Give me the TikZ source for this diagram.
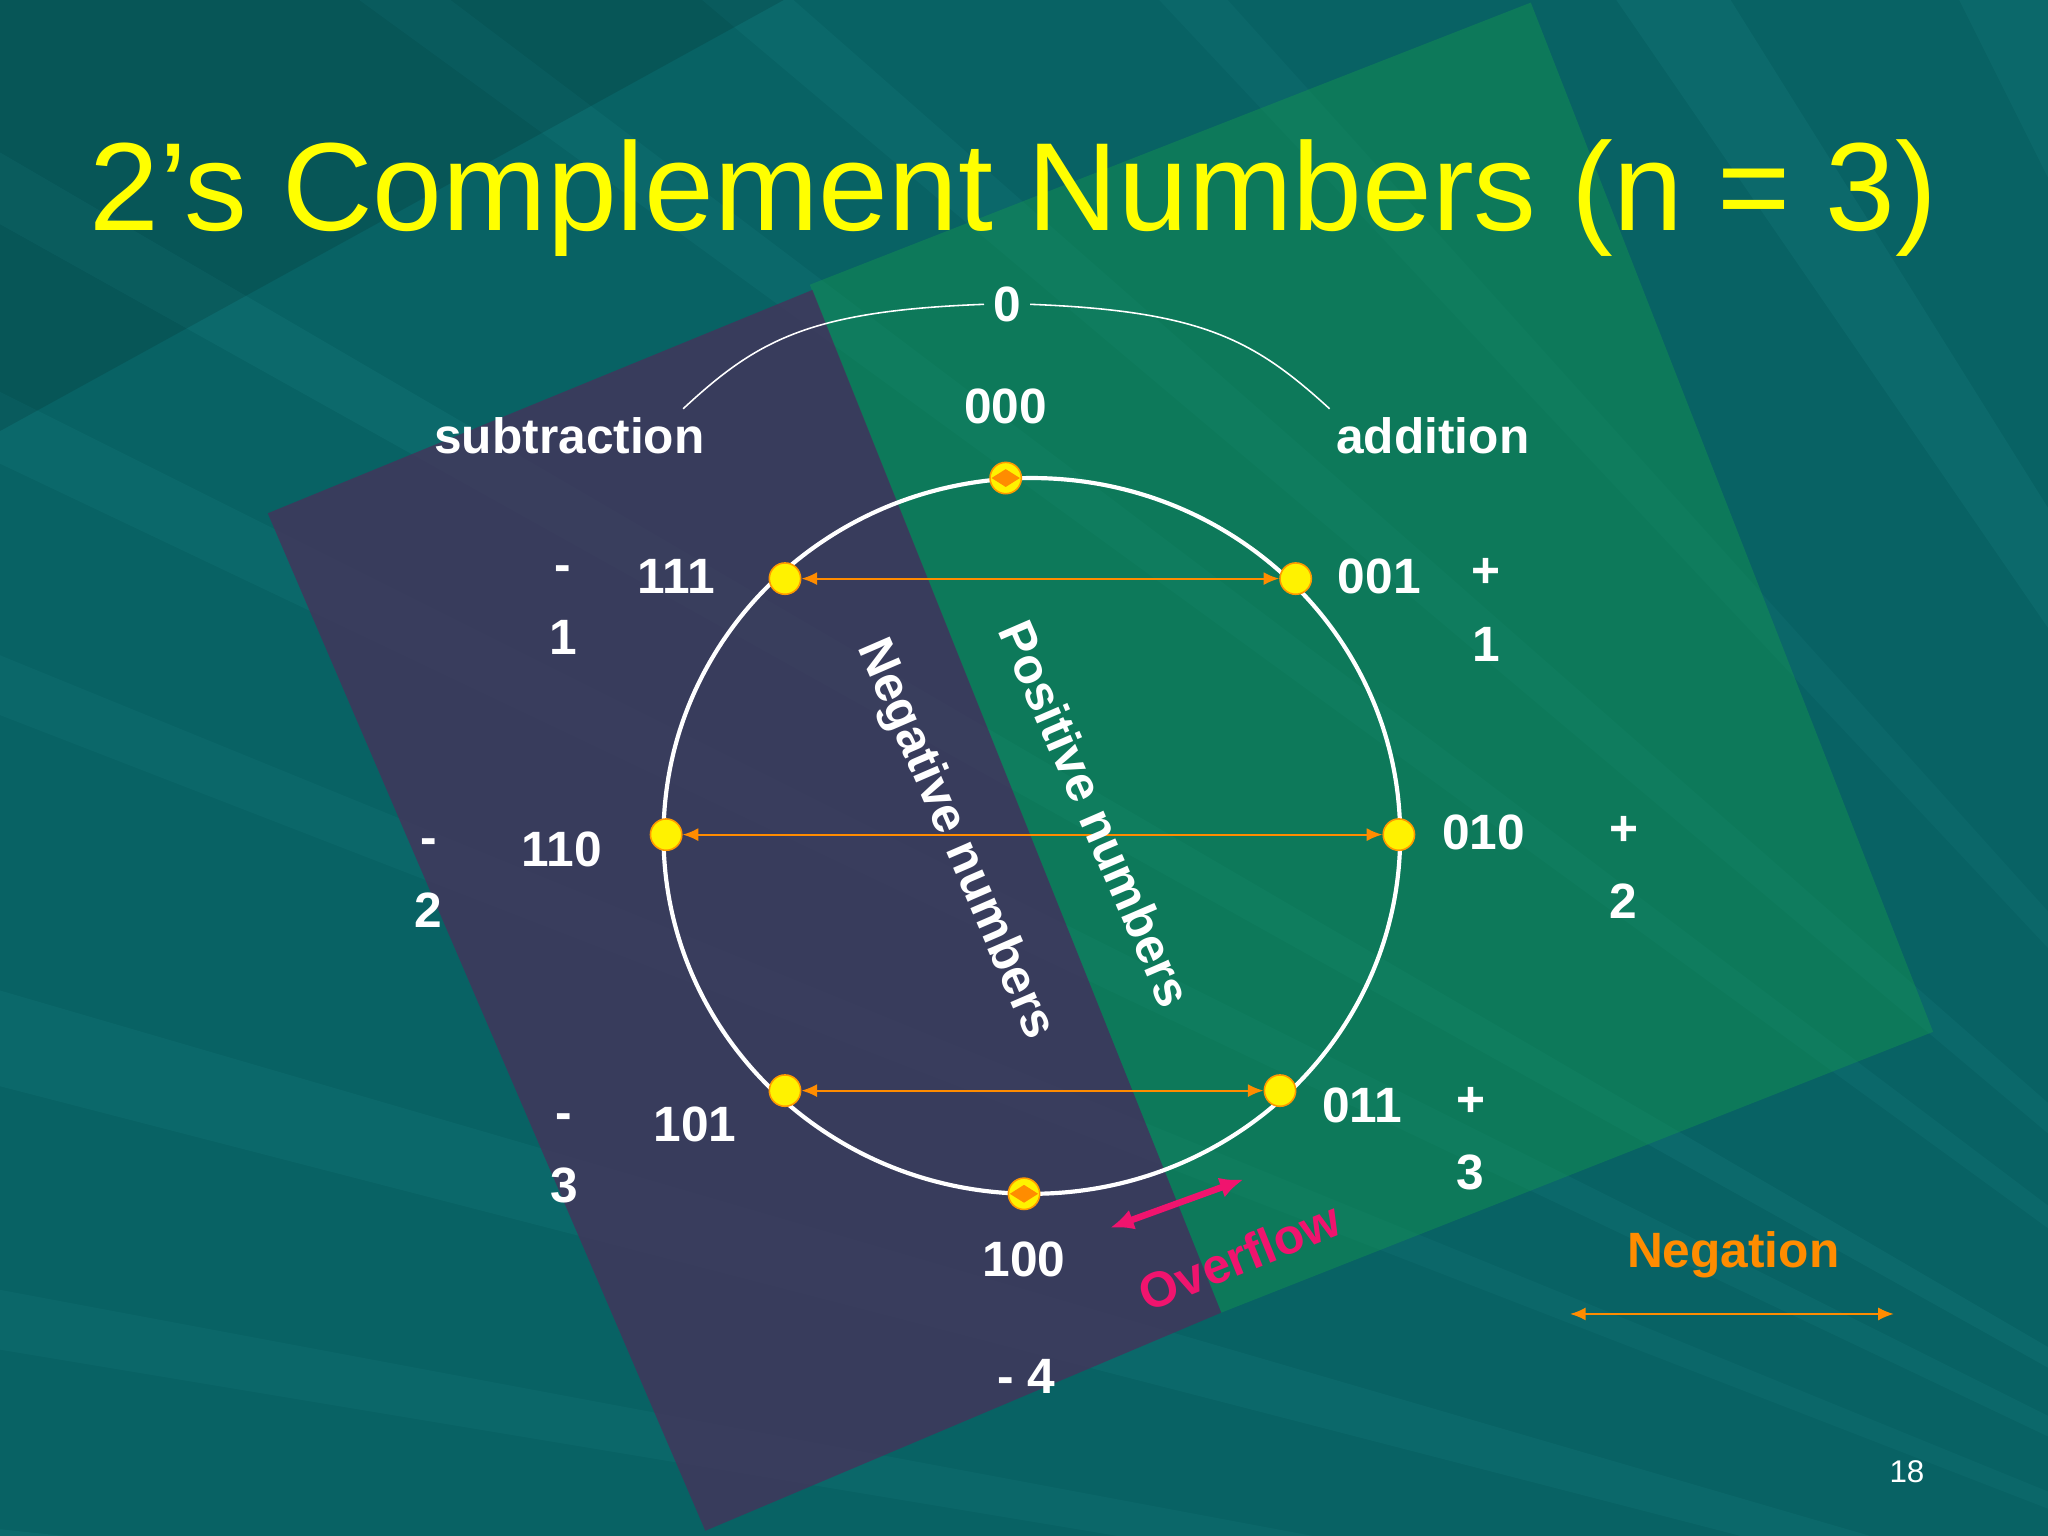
\documentclass[tikz,border=0pt]{standalone}
\usepackage{fontspec}
\setmainfont{Liberation Sans}
\usetikzlibrary{arrows.meta,shapes.geometric}
\definecolor{bgteal}{RGB}{8,98,100}
\definecolor{raylight}{RGB}{40,150,150}
\definecolor{purp}{RGB}{70,50,90}
\definecolor{grn}{RGB}{20,150,80}
\definecolor{ttl}{RGB}{255,255,0}
\definecolor{neg}{RGB}{255,140,0}
\definecolor{ovf}{RGB}{240,20,110}
\begin{document}
\begin{tikzpicture}[x=0.5pt,y=-0.5pt,
  lab/.style={text=white,font=\fontsize{19}{21}\selectfont\bfseries,align=center},
  dot/.style={circle,fill=yellow,draw=orange!80!yellow,line width=0.6pt,minimum size=12pt,inner sep=0pt},
  negarrow/.style={draw=neg,line width=0.8pt,{Latex[length=6pt,width=5pt]}-{Latex[length=6pt,width=5pt]}}]
\useasboundingbox (0,0) rectangle (1568,1176);
\fill[bgteal] (0,0) rectangle (1568,1176);
% rays
\begin{scope}
\clip (0,0) rectangle (1568,1176);
\foreach \a/\b/\o in {0/60/0.15,200/260/0.12,420/470/0.1,700/780/0.12,950/1000/0.1,1150/1230/0.14}{
  \fill[raylight,opacity=\o] (2200,1400) -- (-200,\a) -- (-200,\b) -- cycle;}
\foreach \a/\b/\o in {0/80/0.12,300/380/0.12,700/760/0.1,1100/1200/0.14,1400/1500/0.12}{
  \fill[raylight,opacity=\o] (2200,1400) -- (\a,-200) -- (\b,-200) -- cycle;}
\fill[black,opacity=0.12] (0,0) -- (600,0) -- (0,330) -- cycle;
\end{scope}
% bands
\fill[grn,opacity=0.45] (620,218) -- (1172,2) -- (1480,790) -- (935,1005) -- cycle;
\fill[purp,opacity=0.78] (205,393) -- (622,222) -- (935,1005) -- (540,1172) -- cycle;
% title
\node[text=ttl,font=\fontsize{48}{52}\selectfont] (title) at (776,152) {2’s Complement Numbers (n = 3)};
% brace
\node[lab] (zero) at (771,233) {0};
\draw[white,line width=0.6pt] (zero.west) .. controls (620,238) and (580,260) .. (523,313);
\draw[white,line width=0.6pt] (zero.east) .. controls (920,238) and (960,260) .. (1018,313);
\node[lab] (sub) at (436,334) {subtraction};
\node[lab] (add) at (1097,334) {addition};
% circle
\draw[white,line width=1.6pt] (790,640) ellipse [x radius=282,y radius=274];
\node[dot] (d000) at (770,366) {};
\node[dot] (d001) at (992,443) {};
\node[dot] (d010) at (1071,639) {};
\node[dot] (d011) at (980,835) {};
\node[dot] (d100) at (784,914) {};
\node[dot] (d101) at (601,835) {};
\node[dot] (d110) at (510,639) {};
\node[dot] (d111) at (601,443) {};
\node[diamond,fill=neg,minimum width=11pt,minimum height=7pt,inner sep=0pt] (m000) at (d000) {};
\node[diamond,fill=neg,minimum width=11pt,minimum height=7pt,inner sep=0pt] (m100) at (d100) {};
\draw[negarrow] (d111) -- (d001);
\draw[negarrow] (d110) -- (d010);
\draw[negarrow] (d101) -- (d011);
% labels
\node[lab] (l000) at (770,311) {000};
\node[lab] (l001) at (1056,441) {001};
\node[lab] (l010) at (1136,637) {010};
\node[lab] (l011) at (1043,846) {011};
\node[lab] (l100) at (784,964) {100};
\node[lab] (l101) at (532,861) {101};
\node[lab] (l110) at (430,650) {110};
\node[lab] (l111) at (518,441) {111};
\node[lab] (v1) at (1138,467) {+\\[7pt]1};
\node[lab] (v2) at (1243,664) {+\\[7pt]2};
\node[lab] (v3) at (1126,872) {+\\[7pt]3};
\node[lab] (vm4) at (786,1054) {- 4};
\node[lab] (vm3) at (432,887) {-\\[7pt]3};
\node[lab] (vm2) at (328,676) {-\\[7pt]2};
\node[lab] (vm1) at (431,467) {-\\[7pt]1};
\node[lab,rotate=-66.6,inner sep=0pt] (negn) at (731,643) {Negative numbers};
\node[lab,rotate=-66.6,inner sep=0pt] (posn) at (839,623) {Positive numbers};
% overflow
\coordinate (o1) at (952,903);
\coordinate (o2) at (850,940);
\draw[ovf,line width=2.5pt,{Latex[length=9pt,width=8pt]}-{Latex[length=9pt,width=8pt]}] (o2) -- (o1);
\node[lab,text=ovf,rotate=22] (ovl) at (949,962) {Overflow};
% legend
\node[lab,text=neg] (negl) at (1327,961) {Negation};
\coordinate (n1) at (1202,1006);
\coordinate (n2) at (1450,1006);
\draw[negarrow] (n1) -- (n2);
\node[text=white,font=\fontsize{12}{14}\selectfont] (pg) at (1460,1127) {18};
\end{tikzpicture}
\end{document}
